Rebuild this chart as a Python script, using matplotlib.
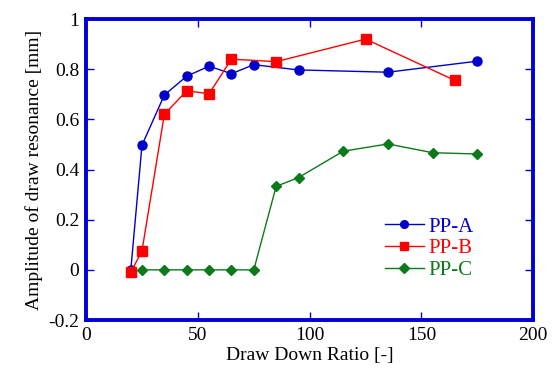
import matplotlib
matplotlib.use("Agg")
import matplotlib.pyplot as plt

plt.rcParams['font.family'] = 'serif'
plt.rcParams['font.serif'] = ['Liberation Serif', 'DejaVu Serif']
plt.rcParams['axes.unicode_minus'] = False

# data
ppa_x = [20, 25, 35, 45, 55, 65, 75, 95, 135, 175]
ppa_y = [0.0, 0.497, 0.697, 0.772, 0.812, 0.782, 0.818, 0.797, 0.788, 0.832]

ppb_x = [20, 25, 35, 45, 55, 65, 85, 125, 165]
ppb_y = [-0.01, 0.076, 0.620, 0.714, 0.702, 0.840, 0.830, 0.920, 0.755]

ppc_x = [25, 35, 45, 55, 65, 75, 85, 95, 115, 135, 155, 175]
ppc_y = [0.0, 0.0, 0.0, 0.0, 0.0, 0.0, 0.333, 0.368, 0.473, 0.502, 0.467, 0.462]

x_ticks = [0, 50, 100, 150, 200]
x_labels = ['0', '50', '100', '150', '200']
y_ticks = [-0.2, 0, 0.2, 0.4, 0.6, 0.8, 1]
y_labels = ['-0.2', '0', '0.2', '0.4', '0.6', '0.8', '1']

frame = '#0000d8'
blue = '#0000cc'
red = '#ff0000'
green = '#0a7a1a'

fig = plt.figure(figsize=(5.59, 3.73), dpi=100)
ax = fig.add_axes([0.154, 0.142, 0.800, 0.807])

ax.plot(ppa_x, ppa_y, color=blue, lw=1.0, marker='o', ms=6.5, label='PP-A')
ax.plot(ppb_x, ppb_y, color=red, lw=1.0, marker='s', ms=7, label='PP-B')
ax.plot(ppc_x, ppc_y, color=green, lw=1.0, marker='D', ms=5.5, label='PP-C')

ax.set_xlim(0, 200)
ax.set_ylim(-0.2, 1)
ax.set_xticks(x_ticks)
ax.set_xticklabels(x_labels, fontfamily='Liberation Serif')
ax.set_yticks(y_ticks)
ax.set_yticklabels(y_labels, fontfamily='Liberation Serif')

for s in ax.spines.values():
    s.set_color(frame)
    s.set_linewidth(2.8)
ax.tick_params(direction='in', length=6, width=1, color=frame,
               labelsize=14, labelcolor='black', top=True, right=True, pad=5)

ax.set_xlabel('Draw Down Ratio [-]', fontsize=14, labelpad=2)
ax.set_ylabel('Amplitude of draw resonance [mm]', fontsize=14, labelpad=4)

leg = ax.legend(loc='lower right', bbox_to_anchor=(0.885, 0.105), frameon=False,
                fontsize=15, handlelength=1.9, handletextpad=0.2,
                labelspacing=0.1, borderaxespad=0, markerscale=0.85)
for txt, c in zip(leg.get_texts(), [blue, red, green]):
    txt.set_color(c)

fig.savefig('out.png', dpi=100)
